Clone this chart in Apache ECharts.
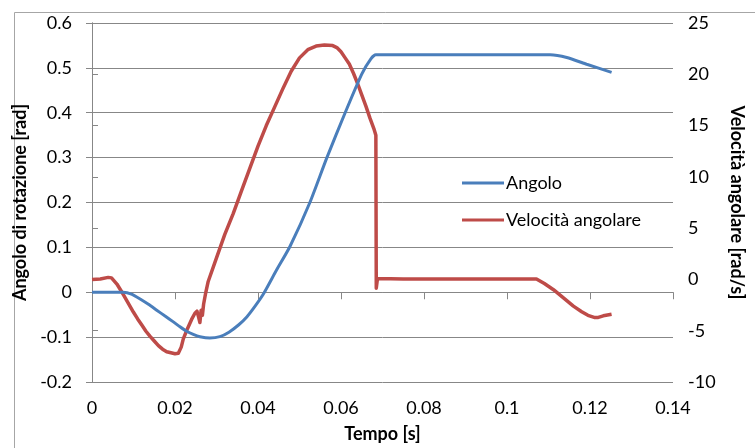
<!DOCTYPE html>
<html>
<head>
<meta charset="utf-8">
<script src="https://cdn.jsdelivr.net/npm/echarts@6/dist/echarts.min.js"></script>
<style>html,body{margin:0;padding:0;background:#fff}#c{width:755px;height:448px}</style>
</head>
<body>
<div id="c"></div>
<script>
// Time [s] and angle [rad]
var tAngolo = [0, 0.0075, 0.0095, 0.0116, 0.0136, 0.0156, 0.0176, 0.0196, 0.0212, 0.0228, 0.0244, 0.026, 0.0284, 0.0308, 0.033, 0.0353, 0.0373, 0.0393, 0.0413, 0.0445, 0.0477, 0.0525, 0.0566, 0.061, 0.065, 0.0672, 0.0684, 0.08, 0.095, 0.1104, 0.1144, 0.1192, 0.1252];
var angolo = [0, 0, -0.004, -0.015, -0.027, -0.040, -0.053, -0.066, -0.077, -0.087, -0.094, -0.099, -0.102, -0.099, -0.089, -0.073, -0.055, -0.031, -0.004, 0.05, 0.102, 0.2, 0.3, 0.4, 0.486, 0.52, 0.529, 0.529, 0.529, 0.529, 0.523, 0.508, 0.490];
// Time [s] and angular velocity [rad/s]
var tVelocita = [0, 0.002, 0.0039, 0.0047, 0.006, 0.007, 0.008, 0.009, 0.010, 0.011, 0.012, 0.013, 0.014, 0.015, 0.016, 0.017, 0.018, 0.019, 0.020, 0.0208, 0.0215, 0.022, 0.023, 0.024, 0.0248, 0.0253, 0.0257, 0.026, 0.0263, 0.0266, 0.0269, 0.0274, 0.028, 0.030, 0.032, 0.034, 0.036, 0.038, 0.040, 0.042, 0.044, 0.046, 0.048, 0.050, 0.052, 0.054, 0.056, 0.058, 0.059, 0.060, 0.061, 0.062, 0.063, 0.064, 0.065, 0.066, 0.067, 0.068, 0.0684, 0.0685, 0.0688, 0.075, 0.085, 0.095, 0.1071, 0.109, 0.1112, 0.1136, 0.116, 0.118, 0.1195, 0.121, 0.122, 0.1232, 0.1252];
var velocita = [0.0, 0.05, 0.2, 0.15, -0.45, -1.1, -1.8, -2.5, -3.2, -3.85, -4.45, -5.05, -5.55, -6.0, -6.45, -6.8, -7.05, -7.15, -7.25, -7.2, -6.6, -5.8, -4.8, -3.9, -3.3, -3.1, -3.7, -4.2, -3.0, -3.5, -2.4, -1.3, -0.2, 2.1, 4.4, 6.4, 8.6, 10.8, 13.0, 15.0, 16.8, 18.6, 20.3, 21.6, 22.4, 22.75, 22.85, 22.8, 22.6, 22.2, 21.6, 21.0, 20.1, 19.1, 18.0, 16.9, 15.7, 14.6, 14.05, -0.85, 0.1, 0.05, 0.05, 0.05, 0.05, -0.4, -1.0, -1.8, -2.6, -3.15, -3.5, -3.7, -3.7, -3.55, -3.4];
var seriesNames = ['Angolo', 'Velocità angolare'];

function pairs(xs, ys) { return xs.map(function (x, i) { return [x, ys[i]]; }); }

var FONT = 'Lato';
var GRID = '#878787';
var chart = echarts.init(document.getElementById('c'));
chart.setOption({
  animation: false,
  backgroundColor: '#fff',
  textStyle: { fontFamily: FONT },
  graphic: [{
    type: 'rect', left: 12, top: 10, z: -1,
    shape: { width: 800, height: 500 },
    style: { fill: 'none', stroke: '#a6a6a6', lineWidth: 1 }
  }],
  grid: { left: 92, right: 82, top: 23, bottom: 61, containLabel: false },
  legend: {
    orient: 'vertical', left: 457, top: 169, itemGap: 19,
    itemWidth: 42, itemHeight: 3, icon: 'rect',
    textStyle: { fontFamily: FONT, fontSize: 18, color: '#000', padding: [0, 0, 0, -3] },
    data: seriesNames
  },
  xAxis: [{
    type: 'value', min: 0, max: 0.14, interval: 0.02, position: 'bottom',
    axisLine: { onZero: true, lineStyle: { color: GRID } },
    axisTick: { show: true, length: 7, lineStyle: { color: GRID } },
    axisLabel: { show: false }, splitLine: { show: false }
  }, {
    type: 'value', min: 0, max: 0.14, interval: 0.02, position: 'bottom',
    axisLine: { show: false, onZero: false }, axisTick: { show: false },
    axisLabel: { margin: 17, fontFamily: FONT, fontSize: 18, color: '#000' },
    splitLine: { show: false },
    name: 'Tempo [s]', nameLocation: 'middle', nameGap: 43,
    nameTextStyle: { fontFamily: FONT, fontSize: 18, fontWeight: 'bold', color: '#000' }
  }],
  yAxis: [{
    type: 'value', min: -0.2, max: 0.6, interval: 0.1, position: 'left',
    axisLine: { show: true, lineStyle: { color: GRID } },
    axisTick: { show: true, length: 6, lineStyle: { color: GRID } },
    axisLabel: { margin: 20, fontFamily: FONT, fontSize: 18, color: '#000' },
    splitLine: { show: true, lineStyle: { color: GRID, width: 1 } },
    name: 'Angolo di rotazione [rad]', nameLocation: 'middle', nameGap: 55, nameRotate: 90,
    nameTextStyle: { fontFamily: FONT, fontSize: 18, fontWeight: 'bold', color: '#000' }
  }, {
    type: 'value', min: -10, max: 25, interval: 5, position: 'right',
    axisLine: { show: true, lineStyle: { color: GRID } },
    axisTick: { show: true, length: 6, lineStyle: { color: GRID } },
    axisLabel: { margin: 15, fontFamily: FONT, fontSize: 18, color: '#000' },
    splitLine: { show: false },
    name: 'Velocità angolare [rad/s]', nameLocation: 'middle', nameGap: 55, nameRotate: -90,
    nameTextStyle: { fontFamily: FONT, fontSize: 18, fontWeight: 'bold', color: '#000' }
  }],
  series: [{
    name: seriesNames[0], type: 'line', xAxisIndex: 0, yAxisIndex: 0,
    data: pairs(tAngolo, angolo), showSymbol: false, smooth: 0.2,
    lineStyle: { color: '#4a7ebb', width: 3 }, itemStyle: { color: '#4a7ebb' }, z: 3
  }, {
    name: seriesNames[1], type: 'line', xAxisIndex: 0, yAxisIndex: 1,
    data: pairs(tVelocita, velocita), showSymbol: false,
    lineStyle: { color: '#be4b48', width: 3.5, join: 'round' }, itemStyle: { color: '#be4b48' }, z: 2
  }]
});
</script>
</body>
</html>
